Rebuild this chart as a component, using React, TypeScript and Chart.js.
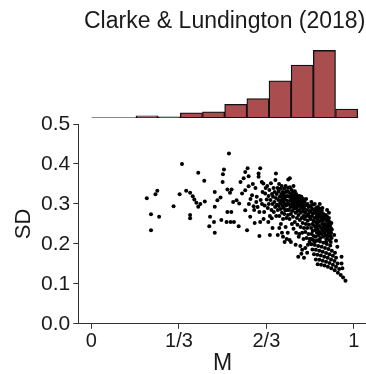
import React, { useEffect, useRef } from "react";
import { Chart, registerables } from "chart.js";

Chart.register(...registerables);

const titleText = "Clarke & Lundington (2018)";
const xAxisTitle = "M";
const yAxisTitle = "SD";

// Marginal histogram of M: 12 bins of width 1/12 over [0, 1]
const histCounts = [0, 0, 4, 2, 10, 12, 26, 37, 71, 101, 129, 17];
const histBinWidth = 1 / 12;

const xTickValues = [0, 1 / 3, 2 / 3, 1];
const xTickLabels = ["0", "1/3", "2/3", "1"];
const yTickValues = [0, 0.1, 0.2, 0.3, 0.4, 0.5];

// Scatter points: M values and SD values (paired by index)
const pointsM = [
  0.211, 0.244, 0.251, 0.227, 0.258, 0.227, 0.313, 0.336, 0.345, 0.361,
  0.376, 0.386, 0.392, 0.400, 0.376, 0.376, 0.407, 0.407, 0.415, 0.430,
  0.432, 0.452, 0.449, 0.470, 0.470, 0.470, 0.467, 0.480, 0.492, 0.495,
  0.501, 0.505, 0.500, 0.524, 0.518, 0.528, 0.534, 0.518, 0.533, 0.515,
  0.530, 0.543, 0.540, 0.553, 0.563, 0.561, 0.568, 0.580, 0.586, 0.595,
  0.599, 0.574, 0.586, 0.599, 0.586, 0.593, 0.605, 0.618, 0.630, 0.637,
  0.643, 0.637, 0.649, 0.640, 0.643, 0.640, 0.655, 0.662, 0.668, 0.674,
  0.680, 0.687, 0.703, 0.756, 0.750,
  // bin 8 extra
  0.600, 0.606, 0.612, 0.620, 0.625, 0.628, 0.633, 0.645, 0.650, 0.652,
  0.658, 0.660, 0.664, 0.615, 0.622, 0.656,
  // bin 9
  0.670, 0.672, 0.675, 0.676, 0.678, 0.680, 0.682, 0.684, 0.686, 0.688,
  0.690, 0.690, 0.692, 0.694, 0.695, 0.697, 0.698, 0.700, 0.701, 0.703,
  0.704, 0.706, 0.707, 0.709, 0.710, 0.710, 0.712, 0.713, 0.714, 0.715,
  0.716, 0.718, 0.719, 0.720, 0.721, 0.722, 0.723, 0.724, 0.725, 0.726,
  0.727, 0.728, 0.729, 0.730, 0.730, 0.731, 0.732, 0.733, 0.734, 0.735,
  0.736, 0.737, 0.738, 0.739, 0.740, 0.740, 0.741, 0.742, 0.743, 0.744,
  0.745, 0.746, 0.747, 0.748, 0.748, 0.749, 0.749, 0.736, 0.744, 0.726,
  0.716,
  // bin 10
  0.751, 0.752, 0.753, 0.754, 0.755, 0.756, 0.757, 0.758, 0.759, 0.760,
  0.760, 0.761, 0.762, 0.763, 0.764, 0.765, 0.765, 0.766, 0.767, 0.768,
  0.768, 0.769, 0.770, 0.770, 0.755,
  0.771, 0.772, 0.773, 0.774, 0.775, 0.775, 0.776, 0.777, 0.778, 0.779,
  0.780, 0.780, 0.781, 0.782, 0.783, 0.784, 0.785, 0.785, 0.786, 0.787,
  0.788, 0.788, 0.789, 0.790, 0.790, 0.778,
  0.791, 0.792, 0.793, 0.794, 0.795, 0.796, 0.797, 0.798, 0.799, 0.800,
  0.800, 0.801, 0.802, 0.803, 0.804, 0.805, 0.806, 0.807, 0.808, 0.808,
  0.809, 0.810, 0.810, 0.796, 0.803, 0.792,
  0.811, 0.812, 0.813, 0.814, 0.815, 0.816, 0.817, 0.818, 0.819, 0.820,
  0.821, 0.822, 0.823, 0.824, 0.825, 0.826, 0.827, 0.828, 0.829, 0.830,
  0.831, 0.832, 0.815, 0.822,
  // rows (arcs)
  0.832, 0.845, 0.858, 0.871, 0.884, 0.897, 0.910,
  0.838, 0.851, 0.864, 0.877, 0.890, 0.903, 0.916, 0.928,
  0.842, 0.855, 0.868, 0.881, 0.894, 0.907, 0.920, 0.932,
  0.848, 0.861, 0.874, 0.887, 0.900, 0.913, 0.926, 0.938,
  0.855, 0.868, 0.881, 0.894, 0.907, 0.920, 0.932, 0.944,
  0.862, 0.875, 0.888, 0.901, 0.914, 0.927, 0.939, 0.950, 0.959, 0.968,
  // bin 11 above rows
  0.834, 0.835, 0.836, 0.837, 0.838, 0.839, 0.840, 0.841, 0.842, 0.843,
  0.844, 0.845, 0.846, 0.847, 0.848, 0.849, 0.850, 0.851, 0.852, 0.853,
  0.854, 0.855, 0.856, 0.857, 0.858, 0.859, 0.860, 0.860, 0.838, 0.850,
  0.861, 0.862, 0.863, 0.864, 0.865, 0.866, 0.867, 0.868, 0.869, 0.870,
  0.871, 0.872, 0.873, 0.874, 0.875, 0.876, 0.877, 0.878, 0.879, 0.880,
  0.881, 0.882, 0.883, 0.884, 0.885, 0.886, 0.887, 0.888, 0.889, 0.890,
  0.870, 0.880, 0.866,
  0.891, 0.892, 0.893, 0.894, 0.895, 0.896, 0.897, 0.898, 0.899, 0.900,
  0.901, 0.902, 0.903, 0.904, 0.905, 0.906, 0.907, 0.908, 0.909, 0.910,
  0.911, 0.912, 0.913, 0.914, 0.915, 0.916, 0.905, 0.898, 0.912, 0.894,
  // right edge
  0.937, 0.953, 0.953, 0.956, 0.925, 0.932,
];

const pointsSD = [
  0.314, 0.324, 0.333, 0.274, 0.268, 0.234, 0.294, 0.324, 0.400, 0.333,
  0.328, 0.319, 0.311, 0.303, 0.272, 0.264, 0.378, 0.293, 0.300, 0.358,
  0.306, 0.268, 0.244, 0.330, 0.293, 0.228, 0.255, 0.309, 0.316, 0.260,
  0.374, 0.386, 0.355, 0.426, 0.336, 0.328, 0.336, 0.280, 0.280, 0.255,
  0.255, 0.255, 0.305, 0.309, 0.301, 0.244, 0.355, 0.364, 0.380, 0.389,
  0.369, 0.326, 0.334, 0.344, 0.284, 0.234, 0.268, 0.294, 0.318, 0.376,
  0.389, 0.368, 0.355, 0.280, 0.255, 0.220, 0.351, 0.326, 0.311, 0.255,
  0.222, 0.264, 0.376, 0.364, 0.361,
  // bin 8 extra
  0.300, 0.312, 0.322, 0.285, 0.340, 0.305, 0.292, 0.310, 0.300, 0.330,
  0.280, 0.296, 0.340, 0.350, 0.252, 0.262,
  // bin 9
  0.345, 0.290, 0.320, 0.300, 0.335, 0.270, 0.310, 0.352, 0.285, 0.325,
  0.300, 0.240, 0.318, 0.340, 0.280, 0.305, 0.330, 0.292, 0.360, 0.315,
  0.270, 0.325, 0.298, 0.340, 0.222, 0.285, 0.310, 0.332, 0.295, 0.350,
  0.270, 0.318, 0.302, 0.338, 0.287, 0.250, 0.325, 0.308, 0.345, 0.278,
  0.315, 0.296, 0.330, 0.262, 0.218, 0.305, 0.322, 0.290, 0.338, 0.275,
  0.312, 0.300, 0.328, 0.284, 0.345, 0.242, 0.318, 0.296, 0.265, 0.332,
  0.308, 0.285, 0.320, 0.300, 0.228, 0.340, 0.272, 0.205, 0.212, 0.228,
  0.240,
  // bin 10
  0.330, 0.300, 0.285, 0.318, 0.262, 0.342, 0.308, 0.292, 0.325, 0.275,
  0.205, 0.312, 0.298, 0.335, 0.250, 0.318, 0.282, 0.305, 0.328, 0.268,
  0.292, 0.315, 0.238, 0.345, 0.210,
  0.302, 0.322, 0.288, 0.310, 0.332, 0.255, 0.296, 0.318, 0.278, 0.305,
  0.228, 0.325, 0.290, 0.312, 0.265, 0.300, 0.320, 0.248, 0.282, 0.308,
  0.168, 0.295, 0.272, 0.315, 0.218, 0.198,
  0.302, 0.285, 0.320, 0.260, 0.295, 0.310, 0.242, 0.278, 0.300, 0.175,
  0.318, 0.265, 0.290, 0.228, 0.305, 0.252, 0.282, 0.312, 0.212, 0.270,
  0.296, 0.240, 0.165, 0.195, 0.185, 0.225,
  0.288, 0.305, 0.262, 0.278, 0.230, 0.296, 0.250, 0.312, 0.270, 0.215,
  0.285, 0.240, 0.300, 0.258, 0.198, 0.275, 0.225, 0.292, 0.248, 0.268,
  0.205, 0.282, 0.190, 0.178,
  // rows (arcs)
  0.212, 0.210, 0.208, 0.206, 0.203, 0.200, 0.196,
  0.199, 0.197, 0.195, 0.193, 0.190, 0.187, 0.183, 0.178,
  0.186, 0.185, 0.183, 0.180, 0.177, 0.174, 0.170, 0.165,
  0.174, 0.173, 0.171, 0.168, 0.165, 0.161, 0.157, 0.151,
  0.161, 0.160, 0.158, 0.155, 0.152, 0.148, 0.143, 0.137,
  0.149, 0.148, 0.146, 0.143, 0.139, 0.134, 0.128, 0.122, 0.116, 0.108,
  // bin 11 above rows
  0.295, 0.262, 0.280, 0.240, 0.305, 0.225, 0.270, 0.288, 0.250, 0.232,
  0.298, 0.276, 0.258, 0.220, 0.285, 0.245, 0.265, 0.300, 0.235, 0.278,
  0.255, 0.218, 0.290, 0.242, 0.270, 0.228, 0.284, 0.250, 0.212, 0.205,
  0.262, 0.236, 0.292, 0.275, 0.222, 0.255, 0.282, 0.245, 0.268, 0.230,
  0.288, 0.215, 0.258, 0.276, 0.240, 0.265, 0.225, 0.282, 0.250, 0.270,
  0.234, 0.258, 0.218, 0.275, 0.244, 0.262, 0.228, 0.268, 0.250, 0.238,
  0.300, 0.290, 0.210,
  0.262, 0.222, 0.272, 0.245, 0.212, 0.258, 0.232, 0.268, 0.248, 0.218,
  0.260, 0.238, 0.252, 0.226, 0.265, 0.242, 0.210, 0.255, 0.232, 0.248,
  0.220, 0.240, 0.228, 0.252, 0.215, 0.236, 0.278, 0.285, 0.205, 0.205,
  // right edge
  0.193, 0.168, 0.151, 0.139, 0.222, 0.208,
];

const FONT = "'Liberation Sans', Arial, Helvetica, sans-serif";
const TEXT = "#1a1a1a";
const AXIS = "#333333";
const BAR_FILL = "#AA4D4F";
const X_MIN = -0.05;
const X_MAX = 1.05;

export default function App() {
  const histRef = useRef<HTMLCanvasElement | null>(null);
  const scatRef = useRef<HTMLCanvasElement | null>(null);

  useEffect(() => {
    const histData = histCounts.map((c, i) => ({ x: (i + 0.5) * histBinWidth, y: c }));
    const hist = new Chart(histRef.current as HTMLCanvasElement, {
      type: "bar",
      data: {
        datasets: [
          {
            type: "line",
            data: [
              { x: 0, y: 0 },
              { x: histCounts.length * histBinWidth, y: 0 },
            ],
            borderColor: "#111",
            borderWidth: 1.2,
            pointRadius: 0,
            order: 2,
          } as any,
          {
            type: "bar",
            data: histData,
            backgroundColor: BAR_FILL,
            borderColor: "#111",
            borderWidth: 1.3,
            borderSkipped: false,
            barPercentage: 1,
            categoryPercentage: 1,
            order: 1,
          },
        ],
      },
      options: {
        animation: false,
        responsive: false,
        layout: { padding: { left: 78.3, right: 0, top: 0, bottom: 2 } },
        plugins: {
          legend: { display: false },
          tooltip: { enabled: false },
          title: {
            display: true,
            text: titleText,
            color: TEXT,
            font: { family: FONT, size: 23, weight: "normal", lineHeight: 1.2 },
            padding: { top: 7.5, bottom: 8 },
          },
        },
        scales: {
          x: { type: "linear", min: X_MIN, max: X_MAX, offset: false, display: false },
          y: { min: 0, max: 143, display: false },
        },
      },
    });

    const scatData = pointsM.map((m, i) => ({ x: m, y: pointsSD[i] }));
    const scat = new Chart(scatRef.current as HTMLCanvasElement, {
      type: "scatter",
      data: {
        datasets: [
          {
            data: scatData,
            backgroundColor: "#000",
            borderWidth: 0,
            pointRadius: 2,
          },
        ],
      },
      options: {
        animation: false,
        responsive: false,
        layout: { padding: { left: 0, right: 0, top: 24, bottom: 0 } },
        plugins: { legend: { display: false }, tooltip: { enabled: false } },
        scales: {
          x: {
            type: "linear",
            min: X_MIN,
            max: X_MAX,
            afterBuildTicks: (s: any) => {
              s.ticks = xTickValues.map((v) => ({ value: v }));
            },
            afterFit: (s: any) => {
              s.height = 50.2;
            },
            ticks: {
              color: TEXT,
              font: { family: FONT, size: 20 },
              padding: 1,
              maxRotation: 0,
              callback: (v: any) => {
                const idx = xTickValues.findIndex((t) => Math.abs(t - v) < 1e-6);
                return idx >= 0 ? xTickLabels[idx] : "";
              },
            },
            grid: { drawOnChartArea: false, drawTicks: true, tickLength: 5, color: AXIS },
            border: { display: true, color: AXIS, width: 1 },
            title: {
              display: true,
              text: xAxisTitle,
              color: TEXT,
              font: { family: FONT, size: 23, lineHeight: 1 },
              padding: { top: 0, bottom: -1.5 },
            },
          },
          y: {
            min: 0,
            max: 0.5,
            afterBuildTicks: (s: any) => {
              s.ticks = yTickValues.map((v) => ({ value: v }));
            },
            afterFit: (s: any) => {
              s.width = 78.3;
            },
            ticks: {
              color: TEXT,
              font: { family: FONT, size: 21 },
              padding: 3,
              callback: (v: any) => Number(v).toFixed(1),
            },
            grid: { drawOnChartArea: false, drawTicks: true, tickLength: 5, color: AXIS },
            border: { display: true, color: AXIS, width: 1 },
            title: {
              display: true,
              text: yAxisTitle,
              color: TEXT,
              font: { family: FONT, size: 22, lineHeight: 1 },
              padding: { top: 13, bottom: 0 },
            },
          },
        },
      },
    });

    return () => {
      hist.destroy();
      scat.destroy();
    };
  }, []);

  return (
    <div
      style={{
        position: "fixed",
        left: 0,
        top: 0,
        width: 366,
        height: 374,
        overflow: "hidden",
        background: "#fff",
      }}
    >
      <canvas
        ref={scatRef}
        width={371}
        height={274}
        style={{ position: "absolute", left: 0, top: 100, width: 371, height: 274 }}
      />
      <canvas
        ref={histRef}
        width={371}
        height={120}
        style={{ position: "absolute", left: 0, top: 0, width: 371, height: 120 }}
      />
    </div>
  );
}
